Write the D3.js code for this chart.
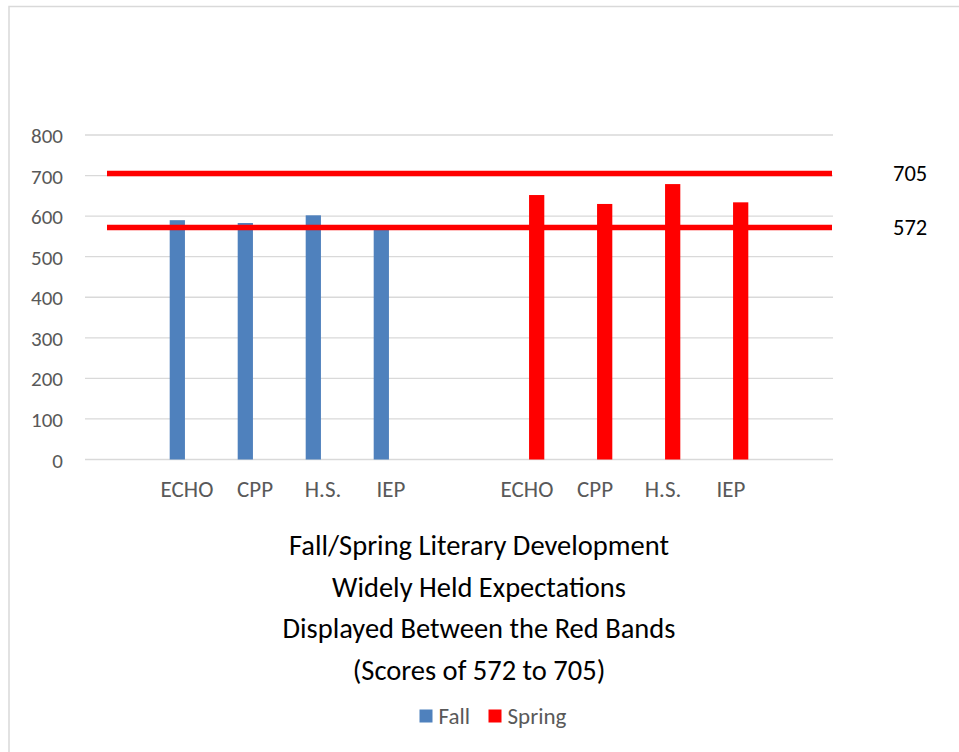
<!DOCTYPE html>
<html>
<head>
<meta charset="utf-8">
<script src="https://cdn.jsdelivr.net/npm/d3@7"></script>
<style>
  html, body { margin: 0; padding: 0; background: #fff; }
  svg { display: block; }
  text { font-family: Carlito, Calibri, Lato, sans-serif; }
</style>
</head>
<body>
<svg id="chart" width="959" height="752"></svg>
<script>
// Category slots along the x axis (blank slots separate the two terms)
const categories = ["", "ECHO", "CPP", "H.S.", "IEP", "", "ECHO", "CPP", "H.S.", "IEP", ""];
const seriesNames = ["Fall", "Spring"];
const fallValues   = [null, 590, 583, 602, 575, null, null, null, null, null, null];
const springValues = [null, null, null, null, null, null, 652, 630, 679, 634, null];
const seriesColors = ["#4F81BD", "#FF0000"];
const yTicks = [0, 100, 200, 300, 400, 500, 600, 700, 800];
const benchmarks = [705, 572];
const titleLines = [
  "Fall/Spring Literary Development",
  "Widely Held Expectations",
  "Displayed Between the Red Bands",
  "(Scores of 572 to 705)"
];

const svg = d3.select("#chart");
const W = 959, H = 752;
const plot = { left: 85, right: 833, top: 135, bottom: 459.5 };

// outer frame
svg.append("rect")
  .attr("x", 9).attr("y", 6.5).attr("width", W).attr("height", H)
  .attr("fill", "none").attr("stroke", "#d9d9d9").attr("stroke-width", 1.5);

const x = d3.scaleBand()
  .domain(d3.range(categories.length))
  .range([plot.left, plot.right])
  .paddingInner(0).paddingOuter(0);

const y = d3.scaleLinear().domain([0, 800]).range([plot.bottom, plot.top]);

// clustered columns: gap width 219%, overlap -27%
const gapWidth = 2.19, overlap = -0.27;
const barW = x.bandwidth() / (2 - overlap + gapWidth);
const clusterW = barW * (2 - overlap);
const xs = d3.scaleBand()
  .domain(seriesNames)
  .range([(x.bandwidth() - clusterW) / 2, (x.bandwidth() + clusterW) / 2])
  .paddingInner(-overlap / (1 - overlap));

// gridlines
svg.append("g")
  .selectAll("line").data(yTicks).join("line")
  .attr("x1", plot.left).attr("x2", plot.right)
  .attr("y1", d => y(d)).attr("y2", d => y(d))
  .attr("stroke", "#d9d9d9").attr("stroke-width", 1.3);

// y axis labels
const yAxis = svg.append("g")
  .attr("transform", `translate(${plot.left - 22},0)`)
  .call(d3.axisLeft(y).tickValues(yTicks).tickSize(0).tickPadding(0));
yAxis.select(".domain").remove();
yAxis.selectAll("text")
  .attr("font-family", "Carlito, Calibri, Lato, sans-serif")
  .attr("font-size", 21).attr("fill", "#595959").attr("dy", "0.36em");

// bars
const series = [fallValues, springValues];
series.forEach((vals, si) => {
  svg.append("g")
    .selectAll("rect")
    .data(vals.map((v, i) => ({ i, v })).filter(d => d.v != null))
    .join("rect")
    .attr("x", d => x(d.i) + xs(seriesNames[si]))
    .attr("width", xs.bandwidth())
    .attr("y", d => y(d.v))
    .attr("height", d => y(0) - y(d.v))
    .attr("fill", seriesColors[si]);
});

// category labels
const xAxis = svg.append("g")
  .attr("transform", `translate(0,${plot.bottom})`)
  .call(d3.axisBottom(x).tickFormat(i => categories[i]).tickSize(0).tickPadding(0));
xAxis.select(".domain").remove();
xAxis.selectAll("text")
  .attr("font-family", "Carlito, Calibri, Lato, sans-serif")
  .attr("font-size", 23).attr("fill", "#595959")
  .attr("y", 37.5).attr("dy", 0);

// benchmark bands with their labels
const bandStart = plot.left + 22;
svg.append("g")
  .selectAll("line").data(benchmarks).join("line")
  .attr("x1", bandStart).attr("x2", plot.right - 1)
  .attr("y1", d => y(d)).attr("y2", d => y(d))
  .attr("stroke", "#FF0000").attr("stroke-width", 5.5);

svg.append("g")
  .selectAll("text").data(benchmarks).join("text")
  .attr("x", 893)
  .attr("y", d => y(d) + 7.5)
  .attr("font-size", 22.5).attr("fill", "#000")
  .text(d => d);

// title block
svg.append("g")
  .selectAll("text").data(titleLines).join("text")
  .attr("x", 479)
  .attr("y", (d, i) => 555 + i * 41.5)
  .attr("text-anchor", "middle")
  .attr("font-size", 28.5).attr("fill", "#000")
  .text(d => d);

// legend
const legend = svg.append("g").attr("transform", "translate(0,716)");
const legendX = [419.5, 488.5];
seriesNames.forEach((name, i) => {
  legend.append("rect")
    .attr("x", legendX[i]).attr("y", -6.5)
    .attr("width", 13).attr("height", 13)
    .attr("fill", seriesColors[i]);
  legend.append("text")
    .attr("x", legendX[i] + 19).attr("y", 8)
    .attr("font-size", 23).attr("fill", "#595959")
    .text(name);
});
</script>
</body>
</html>
